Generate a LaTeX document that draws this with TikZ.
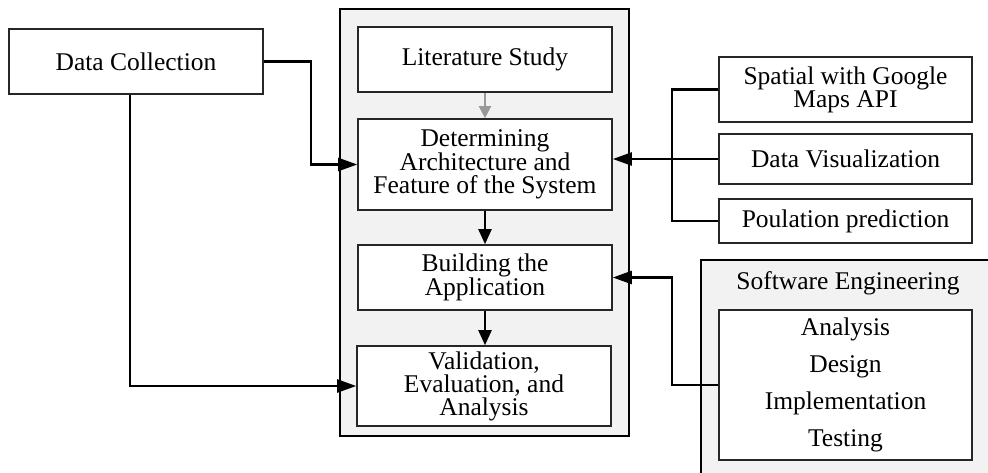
\documentclass[tikz,border=0pt]{standalone}
\usepackage{fontspec}
\setmainfont{Liberation Serif}
\usetikzlibrary{arrows.meta,calc}

\tikzset{
  stagebox/.style={draw=black!85, line width=1.6pt, fill=white, minimum width=254pt,
    inner sep=0pt, align=center, font=\fontsize{25.5}{23}\selectfont},
  groupbox/.style={draw=black, line width=2.4pt, fill=gray!10},
  link/.style={draw=black, line width=2.2pt},
  arr/.style={link, -{Triangle[length=19pt,width=13pt]}},
  flowarr/.style={link, -{Triangle[length=15pt,width=13pt]}},
  greyarr/.style={draw=gray!80, line width=2pt, -{Triangle[length=12pt,width=12pt]}},
}

\begin{document}
\begin{tikzpicture}[x=1pt,y=-1pt]
  \useasboundingbox (0,0) rectangle (988,472);

  % grey group frames
  \draw[groupbox] (340,9) rectangle (629,436);
  \draw[groupbox] (701,260) rectangle (1000,490);

  % left input
  \node[stagebox, minimum height=65pt] (dc) at (136,61.5) {Data Collection};

  % central stages
  \node[stagebox, minimum height=65pt] (lit) at (485,59.5) {Literature Study};
  \node[stagebox, minimum height=91pt] (det) at (485,164.5)
    {Determining\\Architecture and\\Feature of the System};
  \node[stagebox, minimum height=65pt] (build) at (485,277.5) {Building the\\Application};
  \node[stagebox, minimum height=80pt] (val) at (484,386)
    {Validation,\\Evaluation, and\\Analysis};

  % right-hand features
  \node[stagebox, minimum width=253pt, minimum height=65pt] (spa) at (845.5,89.5)
    {Spatial with Google\\Maps API};
  \node[stagebox, minimum width=253pt, minimum height=50pt] (dv) at (845.5,159)
    {Data Visualization};
  \node[stagebox, minimum width=253pt, minimum height=44pt] (pop) at (845.5,221)
    {Poulation prediction};

  % software engineering group
  \node[font=\fontsize{25.5}{23}\selectfont] (selabel) at (848,283) {Software Engineering};
  \node[stagebox, minimum width=253pt, minimum height=150pt,
        font=\fontsize{25.5}{37}\selectfont] (se) at (845.5,385)
    {Analysis\\Design\\Implementation\\Testing};

  % bus lines
  \coordinate (dcbus) at (311,0);
  \coordinate (featbus) at (672,0);

  % flow inside the central frame
  \draw[greyarr] (lit.south) -- (det.north);
  \draw[flowarr] (det.south) -- (build.north);
  \draw[flowarr] (build.south) -- (build.south |- val.north);

  % data collection feeds
  \draw[arr] (dc.east) -- (dc.east -| dcbus) |- (det.west);
  \draw[arr] ([xshift=-6pt]dc.south) |- (val.west);

  % feature bus
  \draw[link] (spa.west) -- (spa.west -| featbus) -- (pop.west -| featbus) -- (pop.west);
  \draw[arr] (dv.west) -- (dv.west -| det.east);

  % software engineering feed
  \draw[arr] (se.west) -- (se.west -| featbus) |- (build.east);
\end{tikzpicture}
\end{document}
